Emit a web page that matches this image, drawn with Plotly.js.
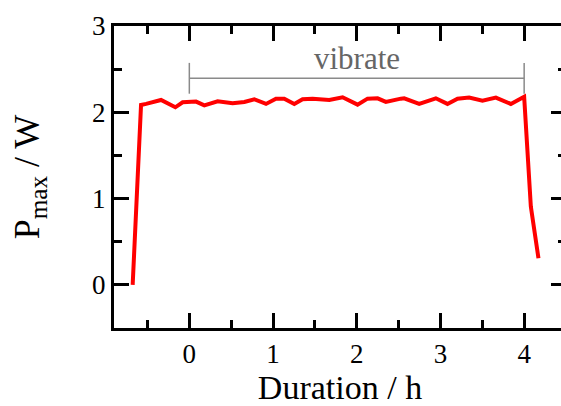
<!DOCTYPE html>
<html>
<head>
<meta charset="utf-8">
<script src="https://cdn.plot.ly/plotly-3.0.1.min.js"></script>
<style>
html, body { margin: 0; padding: 0; overflow: hidden; background: #fff; }
#chart { width: 567px; height: 406px; }
</style>
</head>
<body>
<div id="chart"></div>
<script>
// Duration (h) and maximum power (W)
const durationH = [-0.677, -0.577, -0.517, -0.338, -0.167, -0.080, 0.080, 0.179, 0.338, 0.517, 0.657, 0.776, 0.916,
  1.035, 1.134, 1.254, 1.353, 1.473, 1.672, 1.831, 2.010, 2.129, 2.249, 2.348, 2.527, 2.567, 2.746, 2.905, 2.945,
  3.084, 3.204, 3.343, 3.502, 3.662, 3.741, 3.841, 4.000, 4.080, 4.171];
const pmaxW = [0.0, 2.085, 2.097, 2.143, 2.058, 2.116, 2.124, 2.081, 2.128, 2.104, 2.120, 2.151, 2.097,
  2.158, 2.158, 2.097, 2.151, 2.158, 2.143, 2.174, 2.089, 2.158, 2.162, 2.120, 2.158, 2.162, 2.097, 2.158, 2.162,
  2.097, 2.158, 2.170, 2.135, 2.170, 2.143, 2.097, 2.181, 0.907, 0.309];

const xTicks = [0, 1, 2, 3, 4];
const yTicks = [0, 1, 2, 3];

// "vibrate" bracket
const vibrateX = [0, 4];
const vibrateLevel = 2.394;
const vibrateLabel = "vibrate";

const serif = '"Liberation Serif", "Times New Roman", Times, serif';

const traces = [
  {
    x: durationH, y: pmaxW, type: "scatter", mode: "lines",
    line: { color: "#ff0000", width: 4 }, hoverinfo: "skip", showlegend: false
  },
  {
    x: vibrateX, y: vibrateX.map(() => vibrateLevel), type: "scatter", mode: "lines+markers",
    line: { color: "#8a8a8a", width: 1.5 },
    marker: { symbol: "line-ns-open", size: 22, color: "#8a8a8a", line: { color: "#8a8a8a", width: 1.5 } },
    hoverinfo: "skip", showlegend: false, cliponaxis: false
  }
];

const axisCommon = {
  showgrid: false, zeroline: false,
  showline: true, linecolor: "#000", linewidth: 3, mirror: "allticks",
  ticks: "inside", ticklen: 15, tickwidth: 3, tickcolor: "#000",
  tickfont: { family: serif, size: 27, color: "#000" },
};

const layout = {
  width: 567, height: 406,
  margin: { l: 114, r: 1, t: 26, b: 78 },
  paper_bgcolor: "#fff", plot_bgcolor: "#fff",
  font: { family: serif, color: "#000" },
  xaxis: Object.assign({}, axisCommon, {
    range: [-0.9, 4.5], tickvals: xTicks, ticktext: xTicks.map(String),
    minor: { dtick: 0.5, tick0: 0, ticks: "inside", ticklen: 8, tickwidth: 3, tickcolor: "#000" },
    title: { text: "Duration / h", font: { family: serif, size: 34, color: "#000" }, standoff: 9 }
  }),
  yaxis: Object.assign({}, axisCommon, {
    range: [-0.5, 3.0], tickvals: yTicks, ticktext: yTicks.map(String),
    minor: { dtick: 0.5, tick0: 0, ticks: "inside", ticklen: 8, tickwidth: 3, tickcolor: "#000" },
    title: { text: "P<sub>max</sub> / W", font: { family: serif, size: 36, color: "#000" }, standoff: 42 }
  }),
  annotations: [{
    x: (vibrateX[0] + vibrateX[1]) / 2, y: 2.62, xref: "x", yref: "y",
    text: vibrateLabel, showarrow: false, yanchor: "middle",
    font: { family: serif, size: 31, color: "#666666" }
  }]
};

Plotly.newPlot("chart", traces, layout, { staticPlot: true, displayModeBar: false });
</script>
</body>
</html>
